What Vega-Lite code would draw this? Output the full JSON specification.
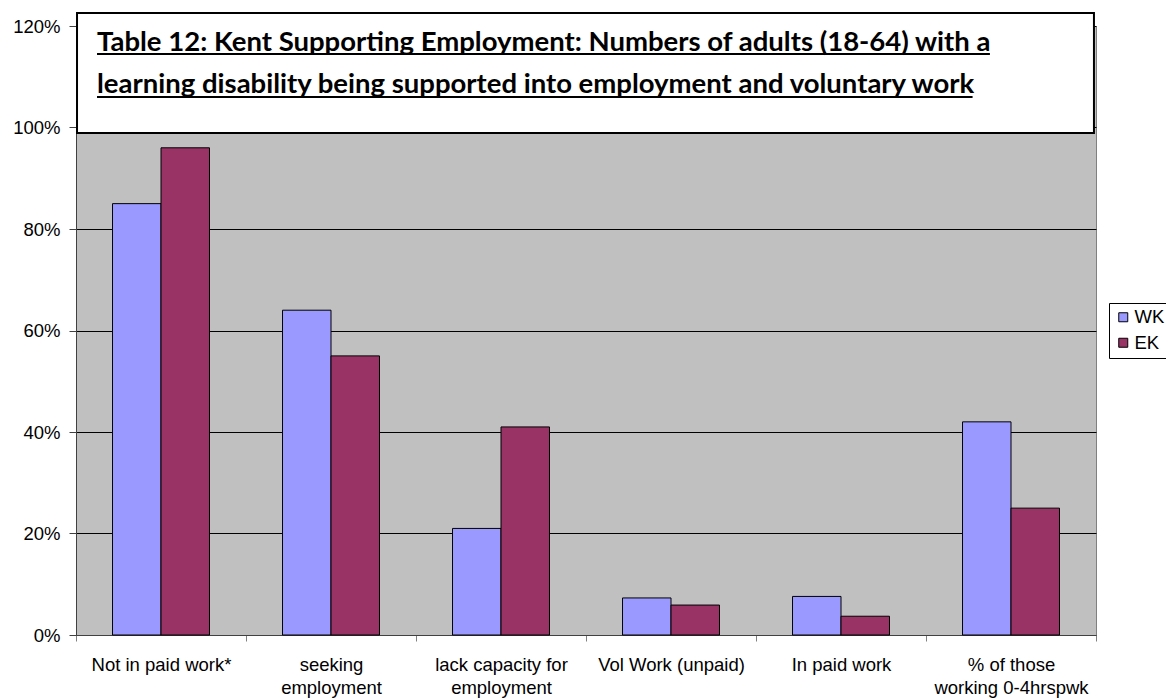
{
  "$schema": "https://vega.github.io/schema/vega-lite/v6.json",
  "autosize": "none",
  "width": 1020,
  "height": 609,
  "padding": {"left": 76, "top": 26, "right": 70, "bottom": 63},
  "background": "white",
  "config": {
    "view": {"fill": "#C0C0C0", "stroke": "#808080", "strokeWidth": 1},
    "font": "Liberation Sans"
  },
  "resolve": {"scale": {"x": "independent"}},
  "layer": [
    {
      "data": {
        "values": [
          {"category": "Not in paid work*", "series": "WK", "value": 0.85},
          {"category": "Not in paid work*", "series": "EK", "value": 0.96},
          {"category": "seeking employment", "series": "WK", "value": 0.64},
          {"category": "seeking employment", "series": "EK", "value": 0.55},
          {"category": "lack capacity for employment", "series": "WK", "value": 0.21},
          {"category": "lack capacity for employment", "series": "EK", "value": 0.41},
          {"category": "Vol Work (unpaid)", "series": "WK", "value": 0.073},
          {"category": "Vol Work (unpaid)", "series": "EK", "value": 0.059},
          {"category": "In paid work", "series": "WK", "value": 0.076},
          {"category": "In paid work", "series": "EK", "value": 0.037},
          {"category": "% of those working 0-4hrspwk", "series": "WK", "value": 0.42},
          {"category": "% of those working 0-4hrspwk", "series": "EK", "value": 0.25}
        ]
      },
      "mark": {"type": "bar", "stroke": "#000", "strokeWidth": 1},
      "encoding": {
        "x": {
          "field": "category",
          "type": "nominal",
          "sort": null,
          "scale": {"paddingInner": 0, "paddingOuter": 0},
          "axis": {
            "title": null,
            "labelAngle": 0,
            "tickBand": "extent",
            "tickSize": 6,
            "tickColor": "#808080",
            "domainColor": "#404040",
            "labelPadding": 14,
            "labelFontSize": 18.5,
            "labelColor": "#000",
            "labelFont": "Liberation Sans",
            "labelLineHeight": 23.5,
            "labelLimit": 300,
            "grid": false,
            "labelExpr": "datum.label == 'seeking employment' ? ['seeking', 'employment'] : datum.label == 'lack capacity for employment' ? ['lack capacity for', 'employment'] : datum.label == '% of those working 0-4hrspwk' ? ['% of those', 'working 0-4hrspwk'] : datum.label"
          }
        },
        "xOffset": {
          "field": "series",
          "type": "nominal",
          "sort": ["WK", "EK"],
          "scale": {"paddingInner": 0, "paddingOuter": 0.753}
        },
        "y": {
          "field": "value",
          "type": "quantitative",
          "scale": {"domain": [0, 1.2], "nice": false},
          "axis": {
            "title": null,
            "values": [0, 0.2, 0.4, 0.6, 0.8, 1.0, 1.2],
            "format": ".0%",
            "grid": true,
            "gridColor": "#000",
            "gridWidth": 1,
            "domainColor": "#404040",
            "tickColor": "#404040",
            "tickSize": 7,
            "labelPadding": 9,
            "labelFontSize": 18.5,
            "labelColor": "#000",
            "labelFont": "Liberation Sans"
          }
        },
        "color": {
          "field": "series",
          "type": "nominal",
          "sort": ["WK", "EK"],
          "scale": {"domain": ["WK", "EK"], "range": ["#9999FF", "#993366"]},
          "legend": {
            "title": null,
            "orient": "none",
            "legendX": 1033,
            "legendY": 277,
            "strokeColor": "#000",
            "fillColor": "#fff",
            "padding": 5,
            "symbolType": "square",
            "symbolSize": 81,
            "symbolStrokeColor": "#000",
            "symbolStrokeWidth": 1,
            "symbolOpacity": 1,
            "labelFontSize": 18.5,
            "labelFont": "Liberation Sans",
            "labelColor": "#000",
            "labelOffset": 2,
            "rowPadding": 6.5
          }
        }
      }
    },
    {
      "data": {"values": [{}]},
      "layer": [
        {
          "mark": {"type": "rect", "fill": "#fff", "stroke": "#000", "strokeWidth": 2},
          "encoding": {
            "x": {"datum": 0.001, "type": "quantitative", "scale": {"domain": [0, 1]}, "axis": null},
            "x2": {"datum": 0.998},
            "y": {"datum": 0.9892, "type": "quantitative", "scale": {"domain": [0, 1.2], "nice": false}},
            "y2": {"datum": 1.2256}
          }
        },
        {
          "mark": {"type": "text", "text": "Table 12: Kent Supporting Employment: Numbers of adults (18-64) with a", "font": "Lato", "fontWeight": "bold", "fontSize": 27.5, "align": "left", "baseline": "alphabetic", "color": "#000"},
          "encoding": {
            "x": {"datum": 0.0206, "type": "quantitative", "scale": {"domain": [0, 1]}, "axis": null},
            "y": {"datum": 1.1513, "type": "quantitative", "scale": {"domain": [0, 1.2], "nice": false}}
          }
        },
        {
          "mark": {"type": "text", "text": "learning disability being supported into employment and voluntary work", "font": "Lato", "fontWeight": "bold", "fontSize": 27.5, "align": "left", "baseline": "alphabetic", "color": "#000"},
          "encoding": {
            "x": {"datum": 0.0206, "type": "quantitative", "scale": {"domain": [0, 1]}, "axis": null},
            "y": {"datum": 1.068, "type": "quantitative", "scale": {"domain": [0, 1.2], "nice": false}}
          }
        },
        {
          "mark": {"type": "rule", "stroke": "#000", "strokeWidth": 2},
          "encoding": {
            "x": {"datum": 0.0206, "type": "quantitative", "scale": {"domain": [0, 1]}, "axis": null},
            "x2": {"datum": 0.896},
            "y": {"datum": 1.1448, "type": "quantitative", "scale": {"domain": [0, 1.2], "nice": false}}
          }
        },
        {
          "mark": {"type": "rule", "stroke": "#000", "strokeWidth": 2},
          "encoding": {
            "x": {"datum": 0.0206, "type": "quantitative", "scale": {"domain": [0, 1]}, "axis": null},
            "x2": {"datum": 0.879},
            "y": {"datum": 1.0601, "type": "quantitative", "scale": {"domain": [0, 1.2], "nice": false}}
          }
        }
      ]
    }
  ]
}
